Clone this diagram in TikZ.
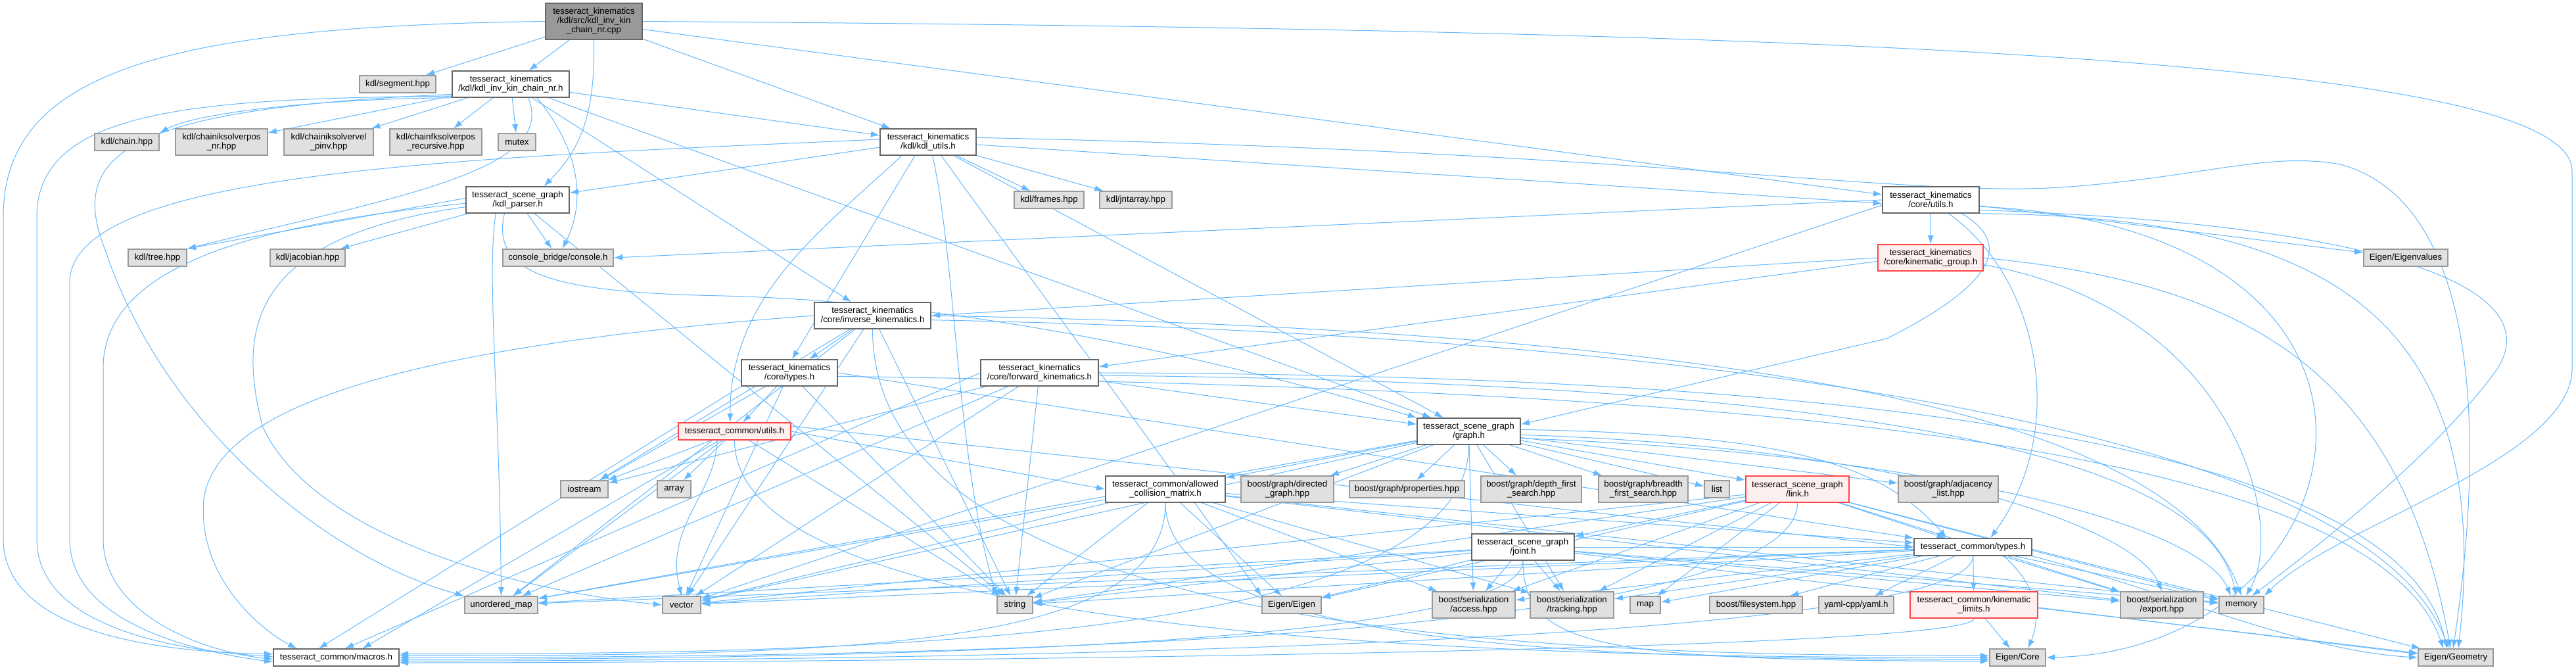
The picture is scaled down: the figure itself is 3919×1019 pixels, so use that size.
\documentclass[tikz,border=0pt]{standalone}
\usepackage{fontspec}
\setmainfont{Liberation Sans}
\usetikzlibrary{arrows.meta}
\pgfdeclarelayer{bg}
\pgfsetlayers{bg,main}
\definecolor{ec}{HTML}{63B8FF}
\definecolor{gfill}{HTML}{E0E0E0}
\definecolor{gdraw}{HTML}{999999}
\definecolor{wdraw}{HTML}{666666}
\definecolor{rfill}{HTML}{FFF0F0}
\definecolor{rdraw}{HTML}{FF4444}
\definecolor{rootfill}{HTML}{999999}
\tikzset{
 box/.style={draw, rectangle, line width=1.1pt, align=center, inner sep=1pt, font=\fontsize{10}{10.5}\selectfont},
 gbox/.style={box, fill=gfill, draw=gdraw},
 wbox/.style={box, fill=white, draw=wdraw},
 rbox/.style={box, fill=rfill, draw=rdraw},
 rootbox/.style={box, fill=rootfill, draw=wdraw},
 hA/.style={minimum height=19.5pt},
 hB/.style={minimum height=30pt},
 hC/.style={minimum height=41.25pt},
 W/.style={minimum width=#1*0.75pt},
 edge/.style={draw=ec, line width=0.75pt, -{Latex[length=10pt,width=7pt]}},
}
\newcommand\tomac[3]{\draw[edge] (#1) .. controls +(0,#2) and +(700,0) .. ([yshift=#3pt]macros.east);}
\newcommand\tocore[3]{\draw[edge] (#1) .. controls +(0,#2) and +(-600,0) .. ([yshift=#3pt]ecore.west);}
\begin{document}
\begin{tikzpicture}[x=0.75pt,y=-0.75pt]
\useasboundingbox (0,0) rectangle (3919,1019);
% nodes
\node[rootbox,hC,W=147] (root) at (903.5,32.5) {tesseract\_kinematics\\/kdl/src/kdl\_inv\_kin\\\_chain\_nr.cpp};
\node[gbox,hA,W=116] (seg) at (605,128) {kdl/segment.hpp};
\node[wbox,hB,W=178] (chnr) at (777,128) {tesseract\_kinematics\\/kdl/kdl\_inv\_kin\_chain\_nr.h};
\node[gbox,hA,W=98] (chain) at (193,216) {kdl/chain.hpp};
\node[gbox,hB,W=140] (ikpos) at (337,216) {kdl/chainiksolverpos\\\_nr.hpp};
\node[gbox,hB,W=136] (ikvel) at (500,216) {kdl/chainiksolvervel\\\_pinv.hpp};
\node[gbox,hB,W=140] (fkpos) at (663,216) {kdl/chainfksolverpos\\\_recursive.hpp};
\node[gbox,hA,W=57] (mutex) at (786.5,216) {mutex};
\node[wbox,hB,W=157] (kdlp) at (787.5,304) {tesseract\_scene\_graph\\/kdl\_parser.h};
\node[gbox,hA,W=89] (tree) at (239.5,392) {kdl/tree.hpp};
\node[gbox,hA,W=114] (jac) at (468,392) {kdl/jacobian.hpp};
\node[gbox,hA,W=168] (cons) at (849,392) {console\_bridge/console.h};
\node[wbox,hB,W=146] (kutils) at (1412,216) {tesseract\_kinematics\\/kdl/kdl\_utils.h};
\node[gbox,hA,W=106] (frames) at (1596,304) {kdl/frames.hpp};
\node[gbox,hA,W=110] (jnt) at (1728,304) {kdl/jntarray.hpp};
\node[wbox,hB,W=177] (invk) at (1327.5,480) {tesseract\_kinematics\\/core/inverse\_kinematics.h};
\node[wbox,hB,W=147] (cutl) at (2937.5,304) {tesseract\_kinematics\\/core/utils.h};
\node[rbox,hB,W=160] (kgrp) at (2937,392) {tesseract\_kinematics\\/core/kinematic\_group.h};
\node[gbox,hA,W=128] (eigv) at (3660,392) {Eigen/Eigenvalues};
\node[gbox,hA,W=72] (iost) at (889,744) {iostream};
\node[gbox,hA,W=111] (umap) at (762.5,920) {unordered\_map};
\node[wbox,hA,W=191] (macros) at (511.5,1000) {tesseract\_common/macros.h};
\node[wbox,hB,W=146] (ktypes) at (1201,567) {tesseract\_kinematics\\/core/types.h};
\node[wbox,hB,W=179] (fwdk) at (1581.5,567) {tesseract\_kinematics\\/core/forward\_kinematics.h};
\node[rbox,hA,W=171] (comut) at (1117.5,656) {tesseract\_common/utils.h};
\node[gbox,hA,W=51] (array) at (1025.5,744) {array};
\node[gbox,hA,W=58] (vector) at (1037,920) {vector};
\node[gbox,hA,W=54] (string) at (1544,920) {string};
\node[wbox,hB,W=182] (acm) at (1773,744) {tesseract\_common/allowed\\\_collision\_matrix.h};
\node[gbox,hB,W=141] (dgraph) at (1958.5,744) {boost/graph/directed\\\_graph.hpp};
\node[gbox,hA,W=90] (eigen) at (1965,920) {Eigen/Eigen};
\node[wbox,hB,W=157] (graph) at (2234.5,656) {tesseract\_scene\_graph\\/graph.h};
\node[gbox,hA,W=175] (props) at (2140.5,744) {boost/graph/properties.hpp};
\node[gbox,hB,W=153] (dfs) at (2329.5,744) {boost/graph/depth\_first\\\_search.hpp};
\node[gbox,hB,W=136] (bfs) at (2500,744) {boost/graph/breadth\\\_first\_search.hpp};
\node[gbox,hA,W=38] (list) at (2612,744) {list};
\node[rbox,hB,W=157] (link) at (2734.5,744) {tesseract\_scene\_graph\\/link.h};
\node[gbox,hB,W=152] (adj) at (2964,744) {boost/graph/adjacency\\\_list.hpp};
\node[wbox,hB,W=156] (joint) at (2317,832) {tesseract\_scene\_graph\\/joint.h};
\node[wbox,hA,W=179] (ctypes) at (3001.5,832) {tesseract\_common/types.h};
\node[gbox,hB,W=126] (access) at (2242,920) {boost/serialization\\/access.hpp};
\node[gbox,hB,W=127] (tracking) at (2391.5,920) {boost/serialization\\/tracking.hpp};
\node[gbox,hA,W=46] (map) at (2503,920) {map};
\node[gbox,hA,W=141] (fsys) at (2671.5,920) {boost/filesystem.hpp};
\node[gbox,hA,W=114] (yaml) at (2824,920) {yaml-cpp/yaml.h};
\node[rbox,hB,W=194] (klim) at (3003,920) {tesseract\_common/kinematic\\\_limits.h};
\node[gbox,hB,W=126] (export) at (3289,920) {boost/serialization\\/export.hpp};
\node[gbox,hA,W=68] (memory) at (3410,920) {memory};
\node[gbox,hA,W=85] (ecore) at (3069.5,1000) {Eigen/Core};
\node[gbox,hA,W=114] (egeom) at (3736,1000) {Eigen/Geometry};
% edges
\begin{pgfonlayer}{bg}
% root
\draw[edge] (root.west) .. controls (250,40) and (5,110) .. (5,330) -- (5,820) .. controls (5,930) and (150,990) .. ([yshift=4pt]macros.west);
\draw[edge] (root) -- (seg);
\draw[edge] (root) -- (chnr);
\draw[edge] (root.south) .. controls (906,180) and (880,230) .. ([xshift=30pt]kdlp.north);
\draw[edge] (root) -- (kutils);
\draw[edge] ([yshift=-9pt]root.east) -- ([yshift=6pt]cutl.west);
\draw[edge] (root.east) .. controls (2800,45) and (3913,90) .. (3913,260) -- (3913,560) .. controls (3913,700) and (3550,800) .. (memory.north east);
% chain_nr.h
\draw[edge] (chnr.south west) .. controls (500,150) and (300,170) .. (chain.north east);
\draw[edge] (chnr) -- (ikpos);
\draw[edge] (chnr) -- (ikvel);
\draw[edge] (chnr) -- (fkpos);
\draw[edge] (chnr) -- (mutex);
\draw[edge] ([yshift=2pt]chnr.south west) .. controls (300,150) and (56,165) .. (56,330) -- (56,820) .. controls (56,930) and (200,985) .. ([yshift=1pt]macros.west);
\draw[edge] ([yshift=4pt]chnr.south west) .. controls (200,165) and (100,230) .. (160,380) .. controls (250,650) and (500,850) .. (umap.north west);
\draw[edge] ([xshift=30pt]chnr.south) .. controls (900,250) and (880,330) .. ([xshift=5pt]cons.north);
\draw[edge] ([xshift=20pt]chnr.south) .. controls (850,260) and (600,300) .. (tree.north east);
\draw[edge] (chnr) -- (invk);
\draw[edge] (chnr) -- (graph);
\draw[edge] (chnr) -- (kutils);
% kdl_parser
\draw[edge] ([yshift=2pt]kdlp.west) -- (tree.north east);
\draw[edge] (kdlp) -- (jac);
\draw[edge] (kdlp) -- (cons);
\draw[edge] ([yshift=-4pt]kdlp.west) .. controls (400,340) and (157,400) .. (157,560) -- (157,820) .. controls (157,930) and (300,990) .. ([yshift=-2pt]macros.west);
\draw[edge] ([xshift=-25pt]kdlp.south) .. controls (740,420) and (760,600) .. (umap.north);
\draw[edge] ([yshift=-8pt]kdlp.west) .. controls (380,360) and (360,500) .. (400,650) .. controls (480,820) and (800,900) .. (vector.west);
\draw[edge] ([xshift=-15pt]kdlp.south) .. controls (745,420) and (850,445) .. (1100,450) .. controls (1500,460) and (1900,560) .. (graph.north west);
\draw[edge] (kdlp) -- (string);
% kdl_utils
\draw[edge] (kutils) -- (frames);
\draw[edge] (kutils) -- (jnt);
\draw[edge] ([yshift=-6pt]kutils.west) -- ([yshift=8pt]kdlp.east);
\draw[edge] ([yshift=3pt]kutils.west) .. controls (700,240) and (106,260) .. (106,430) -- (106,820) .. controls (106,930) and (250,985) .. ([yshift=-5pt]macros.west);
\draw[edge] ([xshift=-15pt]kutils.south) -- ([xshift=3pt]ktypes.north);
\draw[edge] ([xshift=-30pt]kutils.south) .. controls (1250,350) and (1110,450) .. ([xshift=-5pt]comut.north);
\draw[edge] ([xshift=5pt]kutils.south) .. controls (1455,400) and (1455,700) .. (string.north west);
\draw[edge] ([xshift=15pt]kutils.south) .. controls (1550,400) and (1700,600) .. (eigen.north west);
\draw[edge] ([yshift=-3pt]kutils.east) -- ([yshift=-4pt]cutl.west);
\draw[edge] ([yshift=5pt]kutils.east) .. controls (2500,230) and (2900,300) .. (3135,285) .. controls (3350,270) and (3450,230) .. (3560,250) .. controls (3750,300) and (3790,600) .. ([xshift=-3pt]egeom.north);
\draw[edge] (kutils) -- (graph);
% inverse_kinematics
\draw[edge] (invk) -- (ktypes);
\draw[edge] (invk.west) .. controls (700,520) and (330,600) .. (310,760) .. controls (300,880) and (400,960) .. ([xshift=-45pt]macros.north);
\draw[edge] (invk) -- (iost);
\draw[edge] (invk) -- (umap);
\draw[edge] (invk) -- (vector);
\draw[edge] (invk) -- (string);
\draw[edge] (invk.east) .. controls (2500,500) and (3300,600) .. (memory.north);
\draw[edge] ([yshift=-5pt]invk.east) .. controls (2600,510) and (3600,650) .. ([xshift=-8pt]egeom.north);
\tocore{invk.south}{480}{2}
% kinematics core/types
\draw[edge] (ktypes) -- (comut);
\draw[edge] (ktypes) -- (string);
\draw[edge] (ktypes) -- (vector);
\draw[edge] (ktypes) -- (iost);
\draw[edge] (ktypes.south west) -- ([xshift=-20pt]macros.north);
\draw[edge] (ktypes.east) -- (ctypes.north west);
\draw[edge] ([yshift=-4pt]ktypes.east) .. controls (2500,590) and (3600,650) .. ([xshift=-14pt]egeom.north);
% forward_kinematics
\draw[edge] (fwdk) -- (vector);
\draw[edge] (fwdk) -- (string);
\draw[edge] (fwdk.west) -- ([xshift=10pt]macros.north);
\draw[edge] (fwdk) -- (iost);
\draw[edge] (fwdk) -- (umap);
\draw[edge] (fwdk) -- (graph);
\draw[edge] ([yshift=-3pt]fwdk.east) .. controls (2600,580) and (3350,650) .. ([xshift=-6pt]memory.north);
\draw[edge] (fwdk.east) .. controls (2700,570) and (3650,650) .. ([xshift=-10pt]egeom.north);
% kinematic_group
\draw[edge] (kgrp.west) -- (invk.east);
\draw[edge] ([yshift=-4pt]kgrp.west) -- ([yshift=7pt]fwdk.east);
\draw[edge] (kgrp.east) .. controls (3400,430) and (3650,550) .. ([xshift=-6pt]egeom.north);
\draw[edge] ([yshift=-8pt]kgrp.east) .. controls (3400,470) and (3480,800) .. ([xshift=5pt]memory.north);
% core/utils
\draw[edge] (cutl) -- (kgrp);
\draw[edge] (cutl) -- (eigv);
\draw[edge] (cutl.west) -- (cons.east);
\draw[edge] ([yshift=-6pt]cutl.west) -- (vector);
\draw[edge] ([xshift=35pt]cutl.south) .. controls (3080,380) and (3000,450) .. (2870,515) -- ([yshift=8pt]graph.east);
\draw[edge] ([xshift=20pt]cutl.south) .. controls (3100,420) and (3150,650) .. ([xshift=20pt]ctypes.north);
\draw[edge] (cutl.south east) .. controls (3500,330) and (3800,450) .. ([xshift=3pt]egeom.north);
\draw[edge] ([yshift=4pt]cutl.south east) .. controls (3600,340) and (3880,430) .. (3800,560) .. controls (3700,700) and (3500,850) .. ([xshift=12pt]memory.north);
\draw[edge] ([yshift=8pt]cutl.south east) .. controls (3750,350) and (3600,990) .. (ecore.east);
% tesseract_common/utils
\draw[edge] (comut) -- (array);
\draw[edge] ([xshift=-20pt]comut.south) .. controls (1090,750) and (1010,800) .. (vector.north);
\draw[edge] (comut) -- (string);
\draw[edge] (comut) -- (iost);
\draw[edge] (comut) -- ([xshift=30pt]macros.north);
\draw[edge] (comut.east) -- (acm.west);
\draw[edge] ([yshift=6pt]comut.east) -- (ctypes.west);
\draw[edge] (comut) -- (umap);
\tocore{comut.south}{320}{0}
% allowed collision matrix
\draw[edge] (acm) -- (vector);
\draw[edge] (acm) -- (string);
\draw[edge] (acm) -- (eigen);
\draw[edge] (acm) -- (umap);
\draw[edge] (acm) -- (access);
\draw[edge] (acm) -- (tracking);
\draw[edge] (acm) -- (export);
\draw[edge] (acm) -- (memory);
\draw[edge] (acm) -- (ctypes);
\tomac{acm.south}{220}{2}
\tocore{acm.south}{220}{-2}
% graph
\draw[edge] (graph) -- (dgraph);
\draw[edge] (graph) -- (props);
\draw[edge] (graph) -- (dfs);
\draw[edge] (graph) -- (bfs);
\draw[edge] (graph) -- (list);
\draw[edge] (graph) -- (link);
\draw[edge] (graph) -- (adj);
\draw[edge] (graph) -- (acm);
\draw[edge] ([yshift=2pt]graph.east) .. controls (2700,660) and (2860,700) .. ([xshift=-30pt]ctypes.north);
\draw[edge] (graph) -- (string);
\draw[edge] (graph) -- (vector);
\draw[edge] (graph) -- (umap);
\draw[edge] (graph) -- (access);
\draw[edge] (graph) -- (tracking);
\draw[edge] ([yshift=-4pt]graph.east) .. controls (2900,680) and (3250,800) .. (export.north);
\draw[edge] ([yshift=-8pt]graph.east) .. controls (2950,690) and (3350,800) .. ([xshift=-12pt]memory.north);
\tomac{graph.south}{300}{4}
% link
\draw[edge] (link) -- (joint);
\draw[edge] (link) -- (map);
\draw[edge] (link) -- (access);
\draw[edge] (link) -- (tracking);
\draw[edge] (link) -- (export);
\draw[edge] (link) -- (memory);
\draw[edge] (link) -- (string);
\draw[edge] (link) -- (vector);
\draw[edge] (link) -- (ctypes);
\draw[edge] (link) -- (egeom);
\draw[edge] (link) -- (eigen);
\tomac{link.south}{220}{0}
% joint
\draw[edge] (joint) -- (access);
\draw[edge] (joint) -- (tracking);
\draw[edge] (joint) -- (export);
\draw[edge] (joint) -- (memory);
\draw[edge] (joint) -- (string);
\draw[edge] (joint) -- (vector);
\draw[edge] (joint) -- (eigen);
\draw[edge] (joint) -- (ctypes);
\draw[edge] (joint) -- (egeom);
\draw[edge] (joint) -- (umap);
\tomac{joint.south}{130}{-2}
\tocore{joint.south}{130}{-4}
% tesseract_common/types
\draw[edge] (ctypes) -- (vector);
\draw[edge] (ctypes) -- (string);
\draw[edge] (ctypes) -- (memory);
\draw[edge] (ctypes) -- (map);
\draw[edge] (ctypes) -- (fsys);
\draw[edge] (ctypes) -- (yaml);
\draw[edge] (ctypes) -- (klim);
\draw[edge] (ctypes) -- (export);
\draw[edge] (ctypes) -- (access);
\draw[edge] (ctypes) -- (tracking);
\draw[edge] (ctypes) -- (umap);
\draw[edge] ([xshift=35pt]ctypes.south) .. controls (3110,900) and (3100,950) .. ([xshift=12pt]ecore.north);
\draw[edge] (ctypes.south east) .. controls (3300,900) and (3500,990) .. (egeom.west);
\tomac{ctypes.south}{140}{-4}
% kinematic limits
\draw[edge] (klim) -- (ecore);
\draw[edge] ([yshift=-3pt]klim.east) -- ([yshift=4pt]egeom.west);
\tomac{klim.south}{50}{-6}
\end{pgfonlayer}
\end{tikzpicture}
\end{document}
